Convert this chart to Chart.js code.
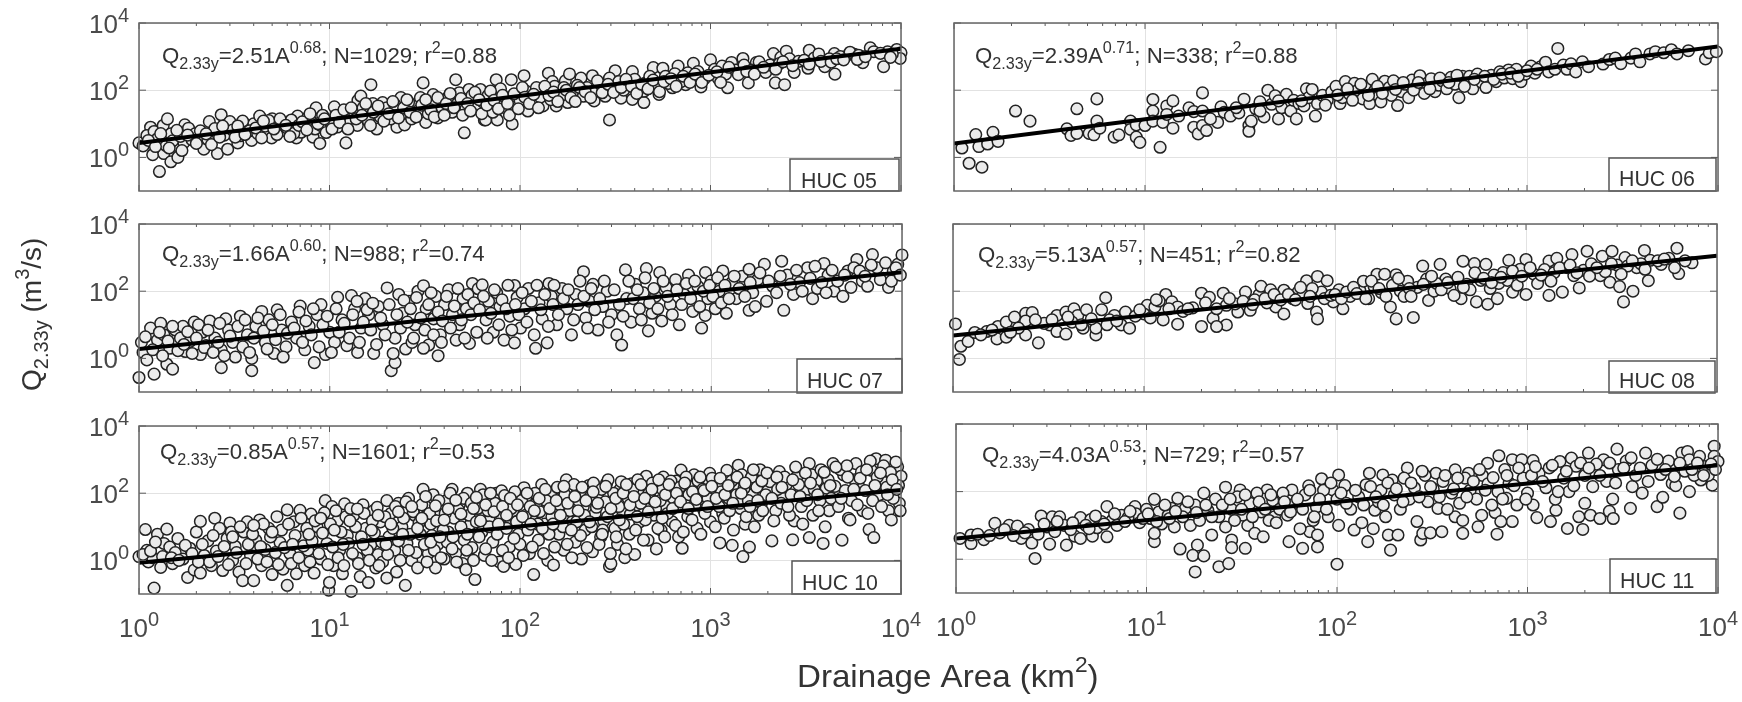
<!DOCTYPE html>
<html>
<head>
<meta charset="utf-8">
<title>Q2.33y vs drainage area</title>
<script src="https://cdn.jsdelivr.net/npm/chart.js@4"></script>
<style>
html, body { margin: 0; padding: 0; background: #fff; }
#fig { position: relative; width: 1742px; height: 702px; overflow: hidden; }
#fig canvas { position: absolute; left: 0; top: 0; }
</style>
</head>
<body>
<div id="fig"></div>
<script>
// values: [drainage area km2, Q2.33y m3/s]
const huc05 = [
[1,2.7],[1.28,.38],[1.15,7.9],[1.1,4.5],[1.2,5.9],[1.18,1.2],[1.35,1.3],[1.34,8.9],[1.41,14],[1.47,5],[1.47,.74],[1.6,1],[1.55,2.3],[1.38,2.3],[1.74,9.3],[1.82,7.4],[1.72,2.75],[1.97,5],[2.19,1.75],[2.34,11.6],[2.58,1.3],[2.7,18.6],[3,11.6],[2.92,1.75],[3.3,2.7],[3.65,9],[4,10],[4.3,17],[3.9,3.2],[4.97,3.8],[5,14],[5.7,6.3],[6.7,3.8],[6.8,17],[7.7,15.5],[7.1,5.6],[8.2,4],[8.5,30],[8.9,2.6],[9.2,18],[10.6,32],[12.2,2.7],[12.3,24],[14.1,50],[14.6,67],[16.5,146],[16.9,40],[17.7,7],[19,43],[22.6,7.9],[23.7,60],[24.8,9.3],[28,34],[31,165],[32,11],[35,74],[37,15],[46,205],[51,5.4],[48,84],[54,105],[62,105],[65,13],[75,205],
[66,13],[76,13],[91,9.9],[79,110],[105,270],[110,24],[90,205],[132,34],[141,320],[148,180],[155,34],[173,190],[178,43],[182,305],[209,230],[245,48],[240,270],[295,13],[316,380],[295,230],[339,58],[389,53],[447,43],[447,93],[389,360],[501,470],[537,75],[562,450],[631,118],[676,520],[741,147],[813,630],[891,125],[1000,800],[1100,220],[1230,118],[1290,670],[1480,880],[1580,165],[1740,660],[1950,340],[2140,1230],[2190,165],[2340,950],[2450,146],[2500,1450],[2750,340],[3300,1550],[3250,450],[3980,500],[4470,1230],[4500,300],[5100,980],[5700,1170],[6300,660],[6900,1820],[8100,500],[8500,1380],[9500,1630],[10000,1300],[9900,880],
[1.25,3.6],[1.5,3.1],[1.65,4.2],[1.9,3.3],[2.1,6.2],[2.3,3.4],[2.5,7.2],[2.8,4.6],[3.1,6.5],[3.4,4.4],[3.5,12],[3.8,6.2],[4.2,5.1],[4.6,8.5],[4.8,12.5],[5.3,4.8],[5.6,10],[6,7.4],[6.3,13],[6.5,5.2],[7.4,9.8],[8,12],[8.4,7],[9,9],[9.6,5.5],[10,12],[11,8],[11.5,19],[12.8,11],[13.5,22],[14,9],[15,30],[16,12],[17.5,24],[18.5,16],[20,30],[21,14],[22,38],[24,20],[26,44],[27,14],[29,24],[30,60],[33,20],[36,42],[39,30],[42,62],[44,22],[47,40],[52,28],[56,70],[60,32],[64,44],[68,70],[72,22],[78,38],[84,60],[95,32],[100,50],[108,92],[115,48],[122,120],[128,62],[138,100],[145,52],[152,130],[165,70],[170,120],[190,80],[200,140],[215,66],[225,120],[250,92],[265,150],[280,66],[300,120],[330,180],[350,100],[370,150],[400,210],[420,110],[460,170],[480,260],[520,130],[580,260],[600,160],[650,310],[700,180],[760,330],[800,240],[860,360],[930,220],[1050,420],[1150,520],[1200,300],[1350,400],[1500,560],[1650,400],[1800,700],[2050,560],[2300,620],[2600,860],[2900,720],[3500,900],[3700,1200],[4200,860],[4800,1000],[5400,1350],[6000,1100],[7200,1400],[7800,1250],[9000,1200],
[1.05,2.2],[1.12,3.2],[1.22,2.1],[1.3,5.1],[1.44,1.9],[1.58,6.4],[1.68,1.6],[1.8,4.6],[2,2.6],[2.25,5],[2.4,2.4],[2.65,4],[2.75,8.5],[3.2,4],[3.3,8.6],[3.6,4.8],[4.1,7.5],[4.4,3.8],[4.5,12],[5.1,7],[5.5,14],[5.9,9],[6.2,4.2],[6.9,9],[7.2,11.5],[7.6,6.6],[7.9,20],[8.7,10],[9.4,14],[10.3,7],[10.8,18],[11.3,11],[11.9,26],[12.5,7],[13,30],[13.8,14],[14.8,18],[15.5,40],[16.4,9],[17,22],[18,34],[19.3,12],[20.5,20],[21.5,46],[23,15],[24.5,30],[25.5,52],[26.5,22],[28.5,16],[30.5,36],[32,52],[34,26],[35.5,16],[37,60],[40,18],[41,40],[43,80],[45,30],[49,56],[50,18],[53,40],[55,24],[58,86],[61,52],[63,20],[67,36],[70,95],[73,50],[77,28],[81,70],[86,40],[88,18],[93,78],[98,28],[103,120],[106,62],[112,40],[118,75],[125,30],[135,130],[142,70],[150,88],[158,46],[175,100],[185,60],[195,46],[205,120],[220,90],[235,60],[255,190],[270,84],[290,150],[310,86],[340,120],[360,210],[385,130],[410,80],[435,150],[470,110],[500,200],[540,90],[570,180],[620,220],[660,130],[720,260],[780,170],[830,300],[900,170],[980,280],[1080,350],[1130,170],[1250,480],[1400,290],[1550,360],[1700,300],[1900,480],[2200,420],[2400,700],[2700,540],[3100,780],[3300,600],[3800,720],[4300,680],[4600,860],[5000,800],[5900,820],[6500,1000],[8800,950]
];
const huc06 = [
[1.1,1.9],[1.2,.67],[1.3,4.8],[1.35,2.1],[1.4,.51],[1.5,2.5],[1.6,5.6],[1.7,3],[2.1,24],[2.5,12],[3.9,7.1],[4.1,4.5],[4.4,5.2],[4.4,28],[5.1,5.2],[5.4,4.7],[5.6,55],[5.6,12],[5.8,7.4],[6.9,4],[7.3,4.7],[8.4,12],[8.4,6.8],[9,9.3],[9,4],[9.4,2.8],[10,8.9],[11,24],[11,53],[11,12],[12,2],[12.4,11],[13,34],[14,7.4],[14,48],[13,19],[15,17],[17,30],[18,23],[18,7.9],[19,5],[20,83],[20,8.9],[20,24],[21,6.3],[24,11],[25,32],[26,22],[28,17],[31,21],[33,54],[35,8.9],[35,6],[36,12],
[38,28],[40,45],[42,16],[44,100],[46,38],[48,68],[50,14],[52,30],[55,75],[58,24],[60,50],[62,14],[64,40],[68,34],[70,110],[72,60],[75,105],[78,17],[80,40],[85,70],[90,50],[95,90],[100,130],[105,40],[108,60],[112,180],[118,75],[125,160],[130,100],[138,55],[142,130],[150,40],[155,210],[160,100],[168,65],[172,45],[180,185],[190,120],[195,70],[200,190],[210,35],[220,90],[230,150],[240,60],[250,200],[262,120],[275,270],[290,80],[300,160],[315,220],[330,90],[345,140],[360,190],[380,110],[400,240],[420,150],[440,60],[460,260],[480,170],[500,260],[520,110],[550,300],[580,170],[610,120],[650,280],[690,180],[720,350],[760,230],[800,400],[840,220],[880,420],[930,180],[980,300],[1050,520],[1100,320],[1180,500],[1250,680],[1300,350],[1400,420],[1450,1750],[1550,560],[1620,420],[1700,610],[1800,350],[1950,700],[2100,500],[2500,600],[2700,820],[2900,900],[3100,620],[3500,900],[3700,1200],[3900,700],[4400,1200],[4700,1400],[5200,1300],[5700,1600],[6100,1200],[7000,1500],[8600,850],[9000,1300],[9800,1400],
[22,14],[30,30],[40,24],[50,48],[66,48],[88,36],[102,72],[115,110],[122,50],[135,150],[148,70],[165,130],[175,80],[205,105],[225,170],[255,100],[270,170],[310,110],[350,230],[390,170],[430,280],[470,130],[530,210],[600,260],[670,210],[740,300],[820,320],[900,260],[1000,380],[1130,420]
];
const huc07 = [
[1,.27],[1.05,1.5],[1.03,3],[1.1,.9],[1.15,8],[1.2,.34],[1.25,3.5],[1.3,11],[1.35,5],[1.4,.67],[1.45,2],[1.5,.48],[1.55,7],[1.65,4],[1.7,9],[1.75,1.6],[1.85,3.2],[1.95,12],[2.1,1.3],[2.15,6],[2.25,2.4],[2.35,13],[2.5,4],[2.7,.53],[2.7,1.8],[2.85,15],[2.95,7],[3.1,3],[3.2,1.1],[3.4,18],[3.7,5],[3.9,.43],[3.9,1],[4.1,9],[4.4,25],[4.6,3],[4.8,14],[5.1,1.4],[5.3,28],[5.6,7],[5.9,2.2],[6.3,12],[6.7,4],[7,36],[7.4,1.8],[7.8,9],[8.3,.75],[8.6,20],[9,40],[9.5,1.3],[10,6],[10.6,3],[11,66],[11.6,14],[12.3,2.4],[13,74],[13.5,30],[14,1.5],[14.6,8],[15.3,60],[16,20],[17,1.4],[18,35],[19,10],[20,125],[21,.43],[22,.75],[22,4],[23,80],[24,22],[25,1.9],[26,50],[27,3],[28,10],[29,100],[31,146],[32,30],[33,2.5],[35,15],[36,70],[37,1.2],[38,5],[40,40],[42,110],[44,20],[46,3.5],[48,10],[50,60],[52,30],[54,2.8],[56,170],[60,118],[63,155],[66,14],[68,50],[72,6],[75,90],[78,35],[82,3.5],[88,18],[93,148],[93,2.9],[96,65],[100,8],[105,30],[110,120],[120,2],[125,45],[130,15],[138,2.9],[141,170],[145,70],[155,10],[165,120],[175,30],[185,5],[195,80],[214,380],[220,16],[230,50],[240,160],[255,7],[270,35],[285,100],[300,20],[320,5],[339,2.5],[355,430],[360,60],[380,12],[400,160],[420,30],[440,90],[457,470],[468,6.6],[490,22],[510,70],[537,360],[550,13],[580,130],[610,40],[650,220],[680,10],[720,80],[760,300],[800,25],[850,140],[890,8],[933,360],[930,19],[960,60],[1000,200],[1050,30],[1100,100],[1150,400],[1200,22],[1280,180],[1350,60],[1450,280],[1580,450],[1580,27],[1650,90],[1750,220],[1900,630],[1950,50],[2100,140],[2340,780],[2400,27],[2500,300],[2700,80],[2900,180],[3200,500],[3400,60],[3600,120],[3900,670],[4100,300],[4400,100],[4900,70],[5200,400],[5800,880],[6200,200],[6600,140],[7000,1230],[7400,500],[8000,240],[8500,130],[9000,400],[9500,630],[10000,1200],
[1.08,4.4],[1.18,1.8],[1.28,6],[1.33,1.2],[1.42,3.3],[1.5,9],[1.6,1.7],[1.72,2.6],[1.8,6.2],[1.9,1.4],[2,4],[2.05,10],[2.2,2.1],[2.3,7],[2.45,1.5],[2.6,3],[2.65,11],[2.8,1.2],[3,4.6],[3.3,9],[3.5,2.2],[3.6,14],[3.8,1.5],[4,4],[4.2,16],[4.5,6.5],[4.7,1.9],[5,10],[5.2,3.6],[5.5,20],[5.7,1.1],[6,5.6],[6.5,8],[6.9,24],[7.2,3],[7.5,13],[8,5],[8.2,30],[8.8,2.2],[9.2,10],[9.7,18],[10.2,1.5],[10.8,30],[11.2,6],[11.9,11],[12.7,4],[13.2,20],[13.9,50],[14.3,3],[15,12],[15.7,28],[16.4,7],[16.8,44],[17.6,2.6],[18.5,16],[19.5,5],[20.5,40],[21.5,1.4],[22.5,20],[23.5,8],[24.5,54],[25.5,12],[26.5,30],[27.5,4],[28.5,65],[30,16],[31,2],[31.5,7],[33,40],[34,90],[35,5],[37,24],[38.5,3],[39,13],[41,70],[43,8],[45,36],[47,120],[49,14],[51,4],[53,80],[55,20],[57,45],[59,6],[61,28],[64,70],[67,4],[70,22],[73,110],[77,10],[80,55],[84,30],[86,150],[90,7],[94,40],[98,20],[102,90],[108,12],[114,50],[118,5],[122,150],[128,28],[134,80],[140,9],[148,40],[150,150],[158,20],[168,60],[178,110],[190,14],[200,40],[205,200],[215,70],[225,8],[235,120],[245,28],[260,60],[275,200],[290,12],[310,110],[330,40],[345,18],[370,200],[390,60],[410,110],[430,14],[450,250],[475,45],[500,120],[525,30],[560,200],[590,70],[625,20],[660,110],[700,40],[740,170],[780,60],[820,200],[870,35],[910,100],[980,150],[1020,70],[1080,250],[1130,45],[1180,150],[1240,60],[1320,280],[1400,120],[1500,70],[1600,180],[1700,35],[1800,350],[2000,200],[2200,90],[2300,280],[2600,160],[2800,420],[3000,100],[3300,240],[3500,550],[3800,180],[4000,90],[4300,420],[4600,200],[5000,300],[5400,130],[5600,500],[6000,400],[6400,280],[6900,600],[7700,220],[8200,700],[8800,200],[9300,500],[9800,300]
];
const huc08 = [
[1.03,10.6],[1.08,.93],[1.1,2.3],[1.2,3.2],[1.3,5.9],[1.5,6.3],[1.7,3.8],[1.72,8.9],[1.9,12],[1.9,4.3],[2.1,17],[2.4,22],[2.4,5],[2.6,23],[2.8,2.9],[2.4,13],[3.2,9.9],[3.5,19],[3.5,6.3],[3.9,24],[3.9,5.3],[4.3,30],[4.5,19],[4.8,7.9],[5,28],[5.6,5],[5.6,7.9],[6,28],[6.3,64],[7,19],[7.6,9.9],[8,24],[8.4,7.9],[10.4,38],[10,21],[11.4,34],[12.6,14],[13,80],[12,51],[14,48],[15,34],[15,10.4],[20,8.9],[20,87],[22,66],[23,15.5],[26,87],[27,9.9],[24,8.9],[27,38],[31,24],[34,94],[36,27],[40,78],[41,140],[46,110],[49,34],[54,21],[54,107],[64,94],[71,205],[81,275],[72,43],[80,24],[81,15],[91,205],[85,94],[98,48],[110,30],[112,84],[135,105],[141,198],[166,320],[182,320],[209,15],[195,34],[257,16.5],[209,310],[240,198],[288,560],[302,230],[355,630],[309,53],[380,230],[468,780],[537,660],[457,60],[550,48],[631,41],[617,630],[813,830],[759,360],[708,60],[851,94],[1000,880],[933,450],[1000,80],[1320,75],[1320,790],[1450,950],[1550,94],[1740,1230],[1900,125],[2090,1550],[2510,1100],[2820,1550],[2750,185],[3090,137],[3240,48],[3630,100],[3300,1000],[4170,1630],[4370,205],[4470,830],[6170,1900],[6300,335],[7400,700],[5100,630],[3800,500],[2450,290],[1780,290],[1170,260],
[1.4,5],[2.2,8],[3,11],[4.2,12],[6.6,14],[9,18],[16,25],[18,32],[30,42],[38,55],[44,45],[60,60],[68,80],[76,120],[105,110],[120,70],[150,60],[160,140],[175,90],[220,100],[230,70],[270,130],[330,100],[340,170],[400,120],[420,75],[490,160],[510,110],[580,210],[650,120],[680,300],[720,170],[800,210],[900,150],[1100,320],[1150,170],[1250,440],[1400,350],[1650,500],[2000,420],[2200,650],[2600,380],[3000,600],[3400,560],[4000,650],[4900,800],[5600,950],[6800,800],
[1.6,7],[2,6],[2.7,14],[3.3,14],[4,17],[4.7,10],[5.3,15],[6.4,10],[7.2,13],[9.5,28],[10.8,16],[11.6,55],[13.5,30],[17,30],[21,45],[24,30],[28,60],[33,50],[37,40],[43,60],[48,80],[52,55],[57,80],[62,55],[66,130],[74,70],[88,60],[95,75],[100,80],[108,60],[115,95],[125,130],[130,85],[145,60],[155,200],[170,120],[185,70],[200,150],[215,240],[245,120],[250,70],[290,160],[320,280],[360,110],[390,180],[440,260],[470,130],[540,350],[600,240],[660,180],[740,260],[850,400],[950,280],[1050,500],[1200,300],[1350,200],[1500,500],[1700,600],[1850,350],[2150,280],[2350,500],[2800,650],[3150,320],[3600,800],[4200,450],[5300,900],[6000,500]
];
const huc10 = [
[1,1.3],[1.08,8.3],[1.1,2],[1.12,.9],[1.18,1.2],[1.2,.15],[1.25,6],[1.3,.62],[1.35,3.2],[1.4,8.5],[1.45,2.5],[1.5,.8],[1.55,1.7],[1.6,4.5],[1.7,1.1],[1.8,.31],[1.85,2.3],[1.95,.52],[2,7],[2.1,14.5],[2.1,.42],[2.2,1.4],[2.3,3.8],[2.4,.7],[2.5,18],[2.55,1.9],[2.65,9],[2.75,.5],[2.9,4.5],[3,13],[3.1,1],[3.2,2.6],[3.35,.45],[3.5,.25],[3.55,7],[3.7,14],[3.85,1.4],[4,.25],[4.1,4],[4.3,16],[4.4,.7],[4.6,2.1],[4.8,9],[5,.38],[5.1,1],[5.3,20],[5.5,3.4],[5.7,.55],[6,32],[6,.18],[6.2,1.6],[6.5,14],[6.7,.4],[7,31],[7.2,5],[7.4,.7],[7.7,2],[8,24],[8.3,.42],[8.6,10],[9,1.1],[9.5,60],[9.7,3.2],[9.9,.13],[10,.22],[10.3,40],[10.5,.7],[11,15],[11.3,2],[11.7,.4],[12,48],[12.4,5.5],[13,.12],[13.4,22],[14,1.2],[14.5,.33],[15,45],[15.5,9],[16,.22],[16.5,3],[17,30],[17.5,.6],[18,1.5],[18.5,14],[19,.9],[20,60],[20,.3],[20.5,5],[21,25],[22,2],[22.5,.45],[23,50],[24,10],[25,.18],[25.5,3.2],[26,70],[27,1],[28,22],[29,.6],[30,6],[31,130],[32,40],[33,1.6],[34,12],[35,90],[36,.6],[37,3],[38,30],[40,1.1],[41,60],[42,7],[44,130],[45,18],[46,1.6],[48,45],[50,.8],[51,4],[52,.53],[53,100],[55,12],[56,2.4],[58,.27],[60,35],[62,130],[63,7],[65,1.4],[67,70],[70,20],[72,3.5],[75,100],[78,.9],[80,118],[82,.66],[84,12],[86,45],[88,2.5],[92,30],[95,.76],[98,6],[105,146],[108,80],[112,1.6],[115,20],[118,.38],[122,50],[125,4],[130,180],[135,12],[140,1],[145,90],[150,.73],[155,30],[160,6],[165,130],[170,2],[175,250],[180,60],[188,14],[195,3.5],[200,110],[210,1.1],[215,40],[220,8],[230,170],[240,1.8],[248,25],[255,90],[265,5],[275,15],[285,200],[290,250],[295,.66],[300,.8],[305,60],[315,9],[325,3],[335,130],[345,30],[355,1.2],[365,80],[375,6],[385,190],[400,1.5],[410,45],[425,14],[440,120],[460,320],[470,4],[485,70],[505,22],[520,2.2],[535,160],[550,8],[565,300],[585,40],[610,100],[630,14],[660,230],[680,5],[700,490],[710,2.3],[730,60],[760,20],[790,150],[820,350],[850,9],[880,80],[920,32],[950,220],[990,390],[1000,14],[1040,130],[1090,50],[1120,3.3],[1160,25],[1200,300],[1250,70],[1300,2.8],[1330,150],[1400,680],[1440,35],[1480,1.3],[1520,12],[1560,200],[1600,2.5],[1660,90],[1720,420],[1790,22],[1850,50],[1920,280],[2000,120],[2100,3.8],[2200,30],[2300,440],[2400,70],[2500,180],[2700,4.1],[2750,15],[2850,320],[3000,40],[3100,110],[3300,760],[3300,4.8],[3450,22],[3600,230],[3750,60],[3900,3.2],[4050,140],[4200,30],[4400,760],[4600,90],[4900,4],[5000,350],[5300,18],[5500,60],[5800,760],[6000,160],[6300,30],[6800,8.3],[7000,480],[7200,4.8],[7400,1060],[7700,90],[8000,220],[8300,960],[8600,30],[8900,16],[9200,120],[9600,610],[9800,50],[10000,320],
[1.05,1.5],[1.15,1.9],[1.22,3.5],[1.33,1.3],[1.48,1.2],[1.62,1],[1.75,2.8],[1.9,1.6],[2.05,.9],[2.15,3],[2.35,.9],[2.45,5.5],[2.6,1.3],[2.8,2.6],[2.95,.75],[3.05,7],[3.25,1.7],[3.4,10],[3.65,.8],[3.75,3],[3.95,6],[4.2,1.1],[4.35,2.6],[4.5,12],[4.7,.9],[4.9,5],[5.2,1.7],[5.4,.75],[5.6,8],[5.8,2.4],[6.1,12],[6.3,.8],[6.6,5.5],[6.9,1.2],[7.1,18],[7.3,2.7],[7.6,9],[7.9,.9],[8.1,3.8],[8.4,15],[8.8,1.6],[9.2,6.5],[9.4,26],[9.8,.75],[10.1,12],[10.4,2.5],[10.8,30],[11.1,1.2],[11.5,7],[11.9,.7],[12.2,20],[12.6,3.2],[12.9,35],[13.2,1.6],[13.7,10],[14.2,.8],[14.7,5],[15.2,25],[15.8,2],[16.2,1],[16.8,15],[17.2,6.5],[17.8,38],[18.2,.7],[18.8,3.5],[19.5,20],[20.2,1.5],[21.5,9],[22.2,40],[23,3.8],[23.5,1],[24.5,18],[25.2,55],[26.5,6],[27.5,28],[28.5,1.7],[29.5,13],[30.5,45],[31.5,3],[32.5,.9],[33.5,25],[34.5,5.5],[35.5,2],[36.5,15],[37.5,60],[38.5,1.2],[39.5,8],[40.5,25],[41.5,3.5],[43,100],[44.5,5],[46.5,.9],[47.5,32],[49,10],[50.5,70],[52.5,2],[54,22],[55.5,50],[57,1],[59,14],[61,5],[64,90],[66,2.2],[68,30],[69,10],[71,1],[74,50],[76,6],[79,18],[81,2],[83,85],[85,9],[87,1.2],[90,35],[94,110],[96,14],[100,3],[102,60],[104,1.4],[107,22],[110,8],[113,40],[116,2.5],[120,100],[124,12],[127,28],[133,1.6],[137,60],[142,6],[147,20],[152,2.5],[157,150],[162,45],[168,10],[172,90],[177,3],[183,30],[187,1.2],[192,180],[198,14],[203,60],[208,5.5],[213,110],[218,22],[225,2.4],[233,75],[238,10],[243,200],[252,38],[260,3],[268,130],[272,8],[280,55],[288,20],[298,1.6],[310,100],[320,5],[330,40],[340,220],[350,12],[360,2.2],[370,70],[380,24],[392,130],[405,8],[415,250],[430,50],[445,4],[455,16],[475,100],[495,200],[515,35],[530,9],[545,60],[560,130],[575,5],[595,25],[620,230],[640,70],[655,11],[670,40],[690,150],[720,7],[745,300],[770,90],[800,16],[830,45],[860,230],[890,6],[910,130],[935,25],[970,70],[1020,280],[1060,10],[1080,170],[1110,40],[1140,110],[1180,18],[1220,480],[1260,30],[1290,230],[1320,8],[1370,90],[1420,50],[1460,350],[1500,140],[1540,20],[1580,60],[1640,300],[1700,10],[1750,150],[1820,500],[1880,30],[1950,90],[2050,220],[2150,15],[2250,130],[2350,50],[2450,300],[2600,22],[2650,90],[2800,600],[2900,180],[3050,12],[3200,60],[3400,350],[3500,130],[3700,30],[3800,500],[4000,10],[4150,250],[4300,70],[4500,160],[4700,40],[4800,500],[5100,120],[5200,650],[5400,16],[5700,250],[5900,45],[6200,430],[6500,120],[6700,25],[6900,900],[7100,60],[7500,300],[7900,40],[8100,650],[8400,150],[8800,420],[9100,70],[9400,850],[9700,170],[9900,30],
[3.1,5],[4,11],[5,7],[6.4,3],[7.8,6],[9,18],[10.6,8],[11.8,3],[12.8,15],[14,34],[15,3],[16.6,8],[18,22],[19.8,3],[21,12],[23,28],[24.2,6],[26,2],[27,40],[29,9],[30.5,18],[32,80],[34,3.5],[36,42],[38,5],[40,16],[42,34],[44,2.2],[46,62],[49,24],[53,6],[57,35],[59,75],[62,15],[66,45],[70,100],[73,28],[77,12],[81,40],[85,22],[89,70],[93,4.5],[97,45],[103,20],[109,100],[114,12],[119,30],[126,70],[131,9],[136,130],[143,35],[149,12],[155,60],[163,22],[170,160],[178,50],[186,8],[194,80],[202,30],[212,150],[222,60],[232,14],[242,110],[256,50],[270,6],[282,160],[300,35],[318,70],[332,16],[348,100],[362,180],[378,45],[396,80],[412,20],[432,180],[452,70],[472,28],[492,130],[512,55],[535,250],[558,18],[580,90],[605,180],[632,35],[664,100],[696,55],[732,200],[765,35],[805,110],[842,65],[882,300],[925,120],[965,40],[1015,160],[1070,70],[1125,280],[1190,90],[1240,170],[1310,50],[1380,300],[1450,100],[1520,200],[1610,40],[1680,500],[1770,60],[1860,230],[1980,400],[2100,70],[2230,300],[2370,150],[2550,40],[2700,250],[2950,80],[3150,400],[3350,200],[3650,90],[3950,420],[4250,170],[4550,600],[4850,70],[5250,300],[5650,130],[6100,280],[6600,500],[7300,170],[7800,400],[8500,90],[9000,250],[9500,130]
];
const huc11 = [
[1.05,4.1],[1.2,2.9],[1.2,5.2],[1.4,3.8],[1.6,11.5],[1.9,10],[2.1,9.5],[2.2,4.1],[2.5,3],[2.6,1.05],[2.8,19],[3.2,18],[3.1,2.8],[3.5,18],[3.8,2.6],[4.2,4.8],[4.5,4.1],[4.5,17],[5.2,4.8],[5.1,15],[6.2,36],[6.2,4.6],[5.8,13],[7.4,20],[8.7,36],[8.8,22],[10,30],[11,59],[11,3.3],[11,5.8],[11.6,25],[14.6,63],[13.5,32],[15,2],[18,.42],[18.5,2.6],[17.5,1.3],[20,1.25],[20,90],[16,32],[17,10],[22,5.2],[24,.6],[27,.74],[26,135],[28,3.7],[28,2.2],[33,2.1],[31,112],[34,10],[37,5.8],[41,4.6],[43,112],[41,60],[47,18],[56,3.3],[58,112],[66,2.1],[71,148],[72,6.5],[79,2.3],[79,5.2],[83,240],[100,.71],[102,310],[102,10],[95,112],[123,7.3],[145,3.3],[148,350],[158,28],[174,310],[191,1.85],[186,5.2],[209,5.2],[195,220],[234,500],[263,13],[275,3.7],[282,5.8],[309,6],[355,6.5],[339,32],[331,350],[417,18],[457,5.8],[457,14],[417,440],[490,350],[550,9.1],[575,20],[617,690],[692,5.5],[708,1150],[676,24],[832,13],[724,13],[776,63],[832,880],[933,880],[1070,830],[1070,40],[1120,17],[1320,13],[1410,28],[1620,8.1],[1480,780],[1700,980],[1950,7.6],[1860,18],[2090,1380],[2000,45],[2140,20],[2400,16],[2690,26],[2820,16],[2510,880],[2950,1800],[3470,32],[4170,1380],[4790,36],[5130,68],[6310,23],[6460,1380],[6920,1540],[7080,880],[7080,100],[8510,550],[9330,155],[9550,2200],[9550,1100],[10000,780],[8130,220],[5750,175],[3550,140],
[1.3,5.5],[1.7,6],[2,5],[2.4,7.5],[2.7,5.5],[3,9],[3.3,6.5],[3.7,10],[4,7.5],[4.8,10],[5.5,8.5],[6.6,14],[7,10],[8,17],[9.2,12],[10.5,16],[12,11],[13,20],[14,9],[15.5,18],[18,40],[19,14],[21,28],[23,60],[24,18],[26,9],[28,30],[30,70],[32,20],[35,45],[38,90],[40,25],[44,14],[46,55],[50,30],[52,90],[55,20],[60,45],[64,8],[68,80],[75,14],[78,35],[85,110],[90,18],[100,60],[110,150],[118,30],[130,70],[135,12],[142,160],[155,8],[165,50],[170,110],[180,18],[200,80],[215,30],[225,250],[240,60],[255,130],[290,300],[300,50],[320,120],[360,200],[380,30],[400,90],[440,45],[470,250],[500,110],[540,60],[580,300],[620,170],[650,40],[700,100],[760,450],[800,180],[880,40],[950,250],[1000,90],[1150,350],[1250,130],[1300,500],[1400,60],[1550,250],[1650,100],[1800,560],[2000,300],[2200,140],[2300,650],[2600,200],[2800,60],[3000,450],[3300,800],[3700,300],[4000,90],[4500,600],[5000,320],[5500,800],[6000,150],[6700,400],[7500,300],[8000,1100],[8900,300],[9200,650],
[1.5,5],[1.8,7.5],[2.3,6],[2.9,11],[3.4,13],[4.1,12],[5,8],[5.4,19],[6,11],[6.8,22],[7.7,13],[8.2,26],[9.6,16],[10.2,22],[11.3,13],[12.5,40],[13.2,16],[14.2,26],[16.5,50],[18.3,24],[20.5,40],[22,18],[25,40],[27.5,60],[29,14],[31.5,30],[33,80],[36,18],[39,50],[42,30],[45,80],[48,12],[53,50],[57,25],[62,60],[66,30],[72,110],[76,18],[81,60],[88,30],[93,180],[105,90],[112,45],[125,110],[138,40],[150,140],[160,70],[175,40],[185,180],[205,120],[222,50],[245,180],[270,70],[280,400],[310,140],[345,70],[370,300],[410,120],[430,250],[480,70],[520,200],[560,450],[600,110],[660,260],[740,60],[780,300],[850,150],[900,500],[980,60],[1050,300],[1100,550],[1200,200],[1350,600],[1450,100],[1600,400],[1750,150],[1900,700],[2100,500],[2400,300],[2700,700],[2900,180],[3200,500],[3500,1000],[3900,500],[4300,200],[4800,900],[5300,450],[5900,280],[6300,700],[7300,450],[7800,700],[8400,300],[9700,450]
];
const datasetsByPanel = [huc05, huc06, huc07, huc08, huc10, huc11];

// fit lines: area end points and Q read at each end
const fitArea = [1, 10000];
const fitQ = [[2.7, 1700], [2.6, 2000], [1.9, 365], [4.8, 1130], [.85, 125], [4.1, 600]];

const hucNames = ['HUC 05', 'HUC 06', 'HUC 07', 'HUC 08', 'HUC 10', 'HUC 11'];
const coefs = ['2.51', '2.39', '1.66', '5.13', '0.85', '4.03'];
const exps = ['0.68', '0.71', '0.60', '0.57', '0.57', '0.53'];
const counts = ['1029', '338', '988', '451', '1601', '729'];
const rsq = ['0.88', '0.88', '0.74', '0.82', '0.53', '0.57'];

const majorX = [1, 10, 100, 1000, 10000];
const minorX = [2, 3, 4, 5, 6, 7, 8, 9];
const majorY = [1, 100, 10000];

// panel rectangles and label spots in page pixels
const layout = [
    { l: 139, r: 901, t: 23, b: 191, eqX: 162, eqY: 63, box: [790, 159, 899, 191], hucX: 801, hucY: 188 },
    { l: 954, r: 1718, t: 23, b: 191, eqX: 975, eqY: 63, box: [1609, 158, 1716, 191], hucX: 1619, hucY: 186 },
    { l: 139, r: 902, t: 224, b: 392, eqX: 162, eqY: 261, box: [797, 359, 902, 393], hucX: 807, hucY: 388 },
    { l: 953, r: 1717, t: 224, b: 392, eqX: 978, eqY: 262, box: [1609, 361, 1715, 393], hucX: 1619, hucY: 388 },
    { l: 139, r: 901, t: 426, b: 594, eqX: 160, eqY: 459, box: [792, 561, 901, 594], hucX: 802, hucY: 590 },
    { l: 956, r: 1718, t: 424, b: 593, eqX: 982, eqY: 462, box: [1610, 559, 1716, 593], hucX: 1620, hucY: 588 }
];

const W = 1742, H = 702;
const FONT = '"Liberation Sans", Arial, sans-serif';

// draws mixed size text left to right, runs are [text, size, yOffset]
function drawRuns(ctx, runs, x, y, color, stretch) {
    ctx.save();
    ctx.translate(x, y);
    ctx.scale(stretch || 1, 1);
    ctx.fillStyle = color;
    ctx.textAlign = 'left';
    ctx.textBaseline = 'alphabetic';
    let cx = 0;
    runs.forEach(function (run) {
        ctx.font = run[1] + 'px ' + FONT;
        ctx.fillText(run[0], cx, run[2]);
        cx += ctx.measureText(run[0]).width;
    });
    ctx.restore();
}

const panelDecor = {
    id: 'panelDecor',
    afterDraw(chart, args, opts) {
        const ctx = chart.ctx;
        const a = chart.chartArea;
        const xs = chart.scales.x, ys = chart.scales.y;
        const i = opts.index;
        const p = layout[i];

        ctx.save();
        ctx.strokeStyle = '#5a5a5a';
        ctx.lineWidth = 1;
        ctx.beginPath();
        // x ticks, top and bottom
        majorX.forEach(function (dec, k) {
            const px = xs.getPixelForValue(dec);
            ctx.moveTo(px, a.bottom); ctx.lineTo(px, a.bottom - 6);
            ctx.moveTo(px, a.top); ctx.lineTo(px, a.top + 6);
            if (k < majorX.length - 1) {
                minorX.forEach(function (m) {
                    const mx = xs.getPixelForValue(dec * m);
                    ctx.moveTo(mx, a.bottom); ctx.lineTo(mx, a.bottom - 3);
                    ctx.moveTo(mx, a.top); ctx.lineTo(mx, a.top + 3);
                });
            }
        });
        // y ticks, both sides
        majorY.forEach(function (v) {
            const py = ys.getPixelForValue(v);
            ctx.moveTo(a.left, py); ctx.lineTo(a.left + 7, py);
            ctx.moveTo(a.right, py); ctx.lineTo(a.right - 7, py);
        });
        ctx.stroke();

        // label box
        const b = p.box;
        ctx.fillStyle = '#fff';
        ctx.fillRect(b[0], b[1], b[2] - b[0], b[3] - b[1]);
        ctx.lineWidth = 1.5;
        ctx.strokeStyle = '#555';
        ctx.strokeRect(b[0], b[1], b[2] - b[0], b[3] - b[1]);

        // axes box
        ctx.strokeStyle = '#666';
        ctx.lineWidth = 1.5;
        ctx.strokeRect(a.left, a.top, a.right - a.left, a.bottom - a.top);
        ctx.restore();

        // equation
        drawRuns(ctx, [
            ['Q', 22, 0], ['2.33y', 16, 6], ['=' + coefs[i] + 'A', 22, 0], [exps[i], 16, -10],
            ['; N=' + counts[i] + '; r', 22, 0], ['2', 16, -10], ['=' + rsq[i], 22, 0]
        ], p.eqX, p.eqY, '#333', 1.01);
        drawRuns(ctx, [[hucNames[i], 22, 0]], p.hucX, p.hucY, '#333', 0.97);

        // tick labels, left column and bottom row only
        if (opts.showY) {
            ys.ticks.forEach(function (t) {
                const py = ys.getPixelForValue(t.value);
                const e = String(Math.round(Math.log10(t.value)));
                drawRuns(ctx, [[t.label, 26, 0], [e, 20, -11]], a.left - 50, py + 10, '#4a4a4a', 1);
            });
        }
        if (opts.showX) {
            xs.ticks.forEach(function (t) {
                const px = xs.getPixelForValue(t.value);
                const e = String(Math.round(Math.log10(t.value)));
                drawRuns(ctx, [[t.label, 26, 0], [e, 20, -11]], px - 20, a.bottom + 43, '#4a4a4a', 1);
            });
        }
    }
};

const figureTitles = {
    id: 'figureTitles',
    afterDraw(chart) {
        const ctx = chart.ctx;
        drawRuns(ctx, [['Drainage Area (km', 32, 0], ['2', 22, -15], [')', 32, 0]], 797, 687, '#333', 1.035);
        ctx.save();
        ctx.translate(41, 391);
        ctx.rotate(-Math.PI / 2);
        drawRuns(ctx, [['Q', 28, 0], ['2.33y', 20, 7], [' (m', 28, 0], ['3', 20, -12], ['/s)', 28, 0]], 0, 0, '#333', 1);
        ctx.restore();
    }
};

datasetsByPanel.forEach(function (points, i) {
    const p = layout[i];
    const canvas = document.createElement('canvas');
    canvas.width = W;
    canvas.height = H;
    canvas.style.width = W + 'px';
    canvas.style.height = H + 'px';
    document.getElementById('fig').appendChild(canvas);

    new Chart(canvas.getContext('2d'), {
        type: 'scatter',
        data: {
            datasets: [{
                type: 'line',
                data: fitArea.map(function (a, k) { return { x: a, y: fitQ[i][k] }; }),
                borderColor: '#000',
                borderWidth: 4,
                pointRadius: 0,
                order: 0
            }, {
                data: points.map(function (pt) { return { x: pt[0], y: pt[1] }; }),
                pointRadius: 5.8,
                pointBackgroundColor: '#ebebeb',
                pointBorderColor: '#222',
                pointBorderWidth: 1.5,
                clip: false,
                order: 1
            }]
        },
        plugins: i === 0 ? [panelDecor, figureTitles] : [panelDecor],
        options: {
            responsive: false,
            animation: false,
            events: [],
            layout: { padding: { left: p.l, top: p.t, right: W - p.r, bottom: H - p.b } },
            plugins: {
                legend: { display: false },
                tooltip: { enabled: false },
                panelDecor: { index: i, showY: i % 2 === 0, showX: i >= 4 }
            },
            scales: {
                x: {
                    type: 'logarithmic',
                    min: 1,
                    max: 10000,
                    afterBuildTicks(scale) { scale.ticks = majorX.map(function (v) { return { value: v }; }); },
                    ticks: { display: false, callback: function () { return '10'; } },
                    grid: { color: '#e2e2e2', lineWidth: 1, drawTicks: false },
                    border: { display: false }
                },
                y: {
                    type: 'logarithmic',
                    min: 0.1,
                    max: 10000,
                    afterBuildTicks(scale) { scale.ticks = majorY.map(function (v) { return { value: v }; }); },
                    ticks: { display: false, callback: function () { return '10'; } },
                    grid: { color: '#e2e2e2', lineWidth: 1, drawTicks: false },
                    border: { display: false }
                }
            }
        }
    });
});
</script>
</body>
</html>
